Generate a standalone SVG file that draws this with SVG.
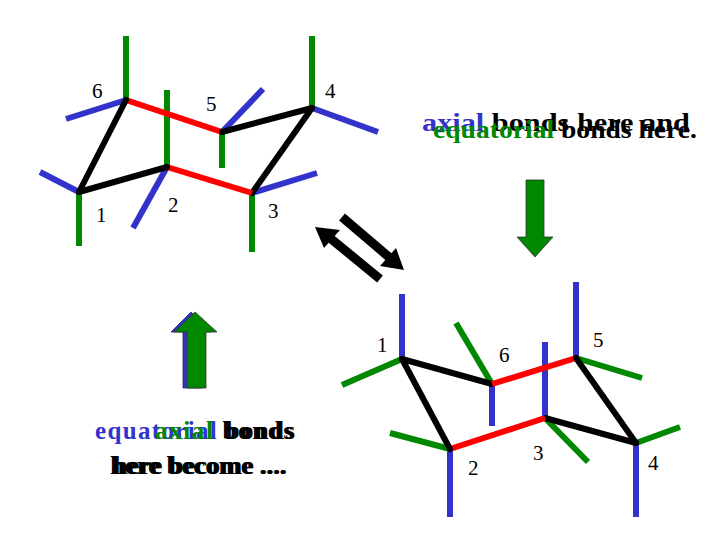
<svg xmlns="http://www.w3.org/2000/svg" width="720" height="540" viewBox="0 0 720 540">
<style>
.b{stroke:#000;stroke-width:6;stroke-linecap:round}
.r{stroke:#f00;stroke-width:6}
.g{stroke:#080;stroke-width:6}
.u{stroke:#33c;stroke-width:6}
.n{font-family:"Liberation Serif",serif;font-size:21px;fill:#000}
.t{font-family:"Liberation Serif",serif;font-size:25px;font-weight:bold;fill:#000}
</style>
<rect width="720" height="540" fill="#fff"/>
<g id="chair1">
<line class="g" x1="126" y1="100" x2="126" y2="36"/><line class="u" x1="126" y1="100" x2="66" y2="119"/>
<line class="g" x1="222" y1="132" x2="222" y2="168"/><line class="u" x1="222" y1="132" x2="263" y2="89"/>
<line class="g" x1="312" y1="108" x2="312" y2="36"/><line class="u" x1="312" y1="108" x2="378" y2="132"/>
<line class="g" x1="252" y1="193" x2="252" y2="252"/><line class="u" x1="252" y1="193" x2="317" y2="173"/>
<line class="g" x1="167" y1="167" x2="167" y2="90"/><line class="u" x1="167" y1="167" x2="133" y2="228"/>
<line class="g" x1="79" y1="192" x2="79" y2="246"/><line class="u" x1="79" y1="192" x2="40" y2="172"/>
<line class="r" x1="126" y1="100" x2="222" y2="132"/>
<line class="b" x1="222" y1="132" x2="312" y2="108"/>
<line class="b" x1="312" y1="108" x2="252" y2="193"/>
<line class="r" x1="252" y1="193" x2="167" y2="167"/>
<line class="b" x1="167" y1="167" x2="79" y2="192"/>
<line class="b" x1="79" y1="192" x2="126" y2="100"/>
<text class="n" x="92" y="98">6</text><text class="n" x="206" y="111">5</text><text class="n" x="325" y="98">4</text>
<text class="n" x="96" y="222">1</text><text class="n" x="168" y="212">2</text><text class="n" x="268" y="218">3</text>
</g>
<g id="chair2">
<line class="u" x1="402" y1="359" x2="402" y2="294"/><line class="g" x1="402" y1="359" x2="342" y2="385"/>
<line class="u" x1="492" y1="384" x2="492" y2="426"/><line class="g" x1="492" y1="384" x2="456" y2="323"/>
<line class="u" x1="576" y1="358" x2="576" y2="282"/><line class="g" x1="576" y1="358" x2="642" y2="378"/>
<line class="u" x1="636" y1="443" x2="636" y2="517"/><line class="g" x1="636" y1="443" x2="680" y2="427"/>
<line class="u" x1="545" y1="418" x2="545" y2="342"/><line class="g" x1="545" y1="418" x2="588" y2="462"/>
<line class="u" x1="450" y1="449" x2="450" y2="517"/><line class="g" x1="450" y1="449" x2="390" y2="433"/>
<line class="b" x1="402" y1="359" x2="492" y2="384"/>
<line class="r" x1="492" y1="384" x2="576" y2="358"/>
<line class="b" x1="576" y1="358" x2="636" y2="443"/>
<line class="b" x1="636" y1="443" x2="545" y2="418"/>
<line class="r" x1="545" y1="418" x2="450" y2="449"/>
<line class="b" x1="450" y1="449" x2="402" y2="359"/>
<text class="n" x="377" y="352">1</text><text class="n" x="499" y="362">6</text><text class="n" x="593" y="347">5</text>
<text class="n" x="648" y="470">4</text><text class="n" x="533" y="460">3</text><text class="n" x="468" y="475">2</text>
</g>
<g id="connectors">
<line x1="342" y1="217" x2="390" y2="258" stroke="#000" stroke-width="9"/>
<polygon points="404,270 380,266 396,248" fill="#000"/>
<line x1="380" y1="279" x2="330" y2="238" stroke="#000" stroke-width="9"/>
<polygon points="315,227 340,230 324,248" fill="#000"/>
</g>
<g id="arrowDown">
<polygon points="526,180 544,180 544,237 553,237 535,257 517,237 526,237" fill="#080" stroke="#333" stroke-width="0.8"/>
</g>
<g id="arrowUp">
<polygon points="183,388 183,332 171,332 191,312 211,332 202,332 202,388" fill="#33c" stroke="#226" stroke-width="0.8"/>
<polygon points="187,388 187,332 174,332 195,312 217,332 206,332 206,388" fill="#080" stroke="#333" stroke-width="0.8"/>
</g>
<g id="textTop">
<text class="t" x="422" y="131" textLength="268" lengthAdjust="spacingAndGlyphs"><tspan fill="#33c">axial</tspan> bonds here and</text>
<text class="t" x="433" y="138" textLength="264" lengthAdjust="spacingAndGlyphs"><tspan fill="#080">equatorial</tspan> bonds here.</text>
</g>
<g id="textBottom">
<text class="t" x="95" y="439" textLength="200" lengthAdjust="spacing"><tspan fill="#33c">equatorial</tspan> bonds</text>
<text class="t" x="155" y="439" textLength="138" lengthAdjust="spacing"><tspan fill="#080">axial</tspan> bonds</text>
<text class="t" x="110" y="474" textLength="176" lengthAdjust="spacingAndGlyphs">here become ....</text>
<text class="t" x="113" y="474" textLength="174" lengthAdjust="spacingAndGlyphs">here become ....</text>
</g>
</svg>
